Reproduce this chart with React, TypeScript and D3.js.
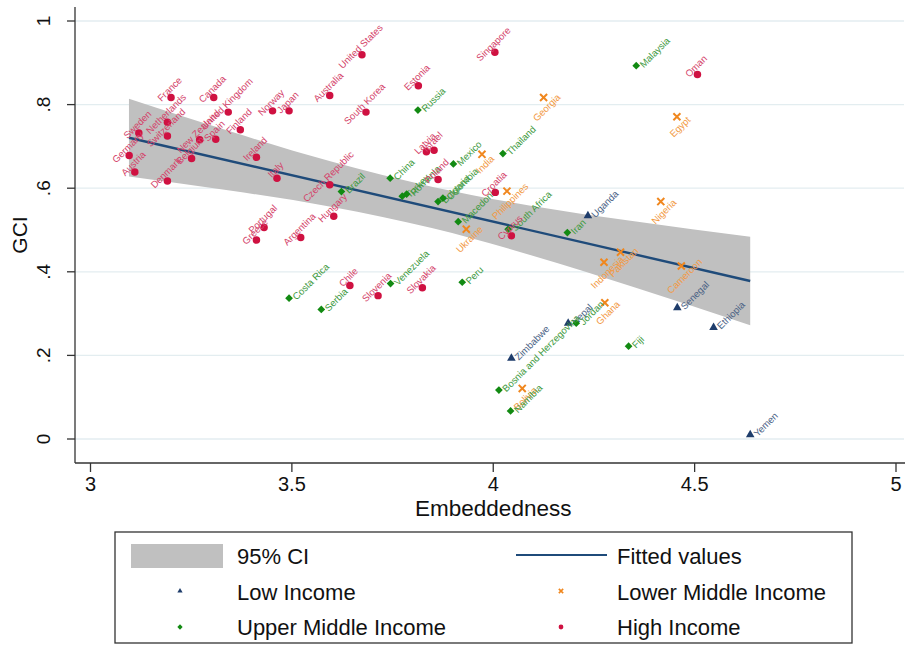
import React from "react";
import * as d3 from "d3";

const W = 907;
const H = 646;
const FONT = "'Liberation Sans', Arial, Helvetica, sans-serif";

// points: country, embeddedness, GCI
const lowIncome = [
  { c: "Uganda", x: 4.235, y: 0.534 },
  { c: "Senegal", x: 4.457, y: 0.314 },
  { c: "Ethiopia", x: 4.547, y: 0.267 },
  { c: "Zimbabwe", x: 4.045, y: 0.193 },
  { c: "Nepal", x: 4.186, y: 0.277 },
  { c: "Yemen", x: 4.638, y: 0.01 },
];

const lowerMiddle = [
  { c: "India", x: 3.972, y: 0.681 },
  { c: "Georgia", x: 4.125, y: 0.817 },
  { c: "Egypt", x: 4.456, y: 0.771 },
  { c: "Philippines", x: 4.034, y: 0.593 },
  { c: "Ukraine", x: 3.933, y: 0.502 },
  { c: "Nigeria", x: 4.416, y: 0.568 },
  { c: "Pakistan", x: 4.316, y: 0.447 },
  { c: "Indonesia", x: 4.275, y: 0.423 },
  { c: "Cameroon", x: 4.467, y: 0.414 },
  { c: "Ghana", x: 4.277, y: 0.326 },
  { c: "Bolivia", x: 4.072, y: 0.121 },
];

const upperMiddle = [
  { c: "Malaysia", x: 4.355, y: 0.893 },
  { c: "Russia", x: 3.813, y: 0.787 },
  { c: "Mexico", x: 3.901, y: 0.658 },
  { c: "Thailand", x: 4.024, y: 0.683 },
  { c: "China", x: 3.744, y: 0.624 },
  { c: "Brazil", x: 3.623, y: 0.592 },
  { c: "Turkey", x: 3.774, y: 0.581 },
  { c: "Romania", x: 3.785, y: 0.586 },
  { c: "Bulgaria", x: 3.863, y: 0.568 },
  { c: "Colombia", x: 3.875, y: 0.576 },
  { c: "Macedonia", x: 3.913, y: 0.52 },
  { c: "South Africa", x: 4.037, y: 0.502 },
  { c: "Iran", x: 4.184, y: 0.494 },
  { c: "Costa Rica", x: 3.493, y: 0.337 },
  { c: "Serbia", x: 3.573, y: 0.31 },
  { c: "Venezuela", x: 3.745, y: 0.372 },
  { c: "Peru", x: 3.923, y: 0.375 },
  { c: "Jordan", x: 4.206, y: 0.277 },
  { c: "Fiji", x: 4.336, y: 0.222 },
  { c: "Bosnia and Herzegovina", x: 4.014, y: 0.117 },
  { c: "Namibia", x: 4.043, y: 0.067 },
];

const highIncome = [
  { c: "France", x: 3.2, y: 0.817 },
  { c: "Canada", x: 3.306, y: 0.817 },
  { c: "United Kingdom", x: 3.342, y: 0.782 },
  { c: "Norway", x: 3.452, y: 0.785 },
  { c: "Japan", x: 3.493, y: 0.785 },
  { c: "Netherlands", x: 3.191, y: 0.758 },
  { c: "Switzerland", x: 3.191, y: 0.725 },
  { c: "Sweden", x: 3.12, y: 0.732 },
  { c: "Finland", x: 3.372, y: 0.74 },
  { c: "New Zealand", x: 3.271, y: 0.716 },
  { c: "Spain", x: 3.311, y: 0.717 },
  { c: "Germany", x: 3.096, y: 0.678 },
  { c: "Belgium", x: 3.251, y: 0.671 },
  { c: "Ireland", x: 3.412, y: 0.674 },
  { c: "Austria", x: 3.11, y: 0.639 },
  { c: "Denmark", x: 3.191, y: 0.617 },
  { c: "Italy", x: 3.463, y: 0.624 },
  { c: "United States", x: 3.674, y: 0.919 },
  { c: "Australia", x: 3.594, y: 0.822 },
  { c: "South Korea", x: 3.684, y: 0.782 },
  { c: "Estonia", x: 3.814, y: 0.845 },
  { c: "Singapore", x: 4.004, y: 0.925 },
  { c: "Latvia", x: 3.834, y: 0.687 },
  { c: "Israel", x: 3.853, y: 0.691 },
  { c: "Poland", x: 3.863, y: 0.621 },
  { c: "Czech Republic", x: 3.594, y: 0.608 },
  { c: "Croatia", x: 4.005, y: 0.59 },
  { c: "Cyprus", x: 4.045, y: 0.486 },
  { c: "Oman", x: 4.507, y: 0.872 },
  { c: "Hungary", x: 3.604, y: 0.533 },
  { c: "Portugal", x: 3.431, y: 0.506 },
  { c: "Greece", x: 3.412, y: 0.476 },
  { c: "Argentina", x: 3.522, y: 0.482 },
  { c: "Chile", x: 3.644, y: 0.367 },
  { c: "Slovenia", x: 3.714, y: 0.343 },
  { c: "Slovakia", x: 3.824, y: 0.362 },
];

// fitted line and 95% band
const fitX = [3.0955, 4.638];
const fitY = [0.7208, 0.378];
const ciX = [3.0955, 3.35, 3.6, 3.85, 4.1, 4.35, 4.638];
const ciLo = [0.628, 0.594, 0.555, 0.504, 0.438, 0.363, 0.272];
const ciHi = [0.814, 0.735, 0.663, 0.603, 0.557, 0.521, 0.484];

const xTicks = [3, 3.5, 4, 4.5, 5];
const yTicks = [0, 0.2, 0.4, 0.6, 0.8, 1];
const yTickLabels = ["0", ".2", ".4", ".6", ".8", "1"];

const legendItems = [
  "95% CI",
  "Fitted values",
  "Low Income",
  "Lower Middle Income",
  "Upper Middle Income",
  "High Income",
];

const RED = "#cf1141";
const GREEN = "#128a12";
const ORANGE = "#f0871e";
const BLUE = "#1f3d6b";
const LINE = "#1f4b7a";

const x = d3.scaleLinear().domain([3, 5]).range([90.5, 896]);
const y = d3.scaleLinear().domain([0, 1]).range([439, 21]);

const circle = d3.symbol(d3.symbolCircle, 44)();
const square = d3.symbol(d3.symbolSquare, 30)();
const tri = d3.symbol(d3.symbolTriangle, 32)();
const cross = d3.symbol(d3.symbolX, 34)();

export default function App() {
  const band = d3
    .area<number>()
    .x((d) => x(d))
    .y0((_, i) => y(ciLo[i]))
    .y1((_, i) => y(ciHi[i]))
    .curve(d3.curveMonotoneX)(ciX);
  const fit = d3
    .line<number>()
    .x((d) => x(d))
    .y((_, i) => y(fitY[i]))(fitX);

  const labelSize = 9.6;
  // legend layout: two columns, three rows
  const colX = [237, 617];
  const rowY = [556, 592, 627];

  return (
    <svg
      width={W}
      height={H}
      style={{ position: "absolute", left: 0, top: 0, background: "#fff" }}
      fontFamily={FONT}
    >
      {/* grid */}
      {yTicks.map((t) => (
        <line key={"g" + t} x1={75} x2={904} y1={y(t)} y2={y(t)} stroke="#e3edf0" strokeWidth={1.3} />
      ))}

      <path d={band ?? ""} fill="#c0c0c0" />
      <path d={fit ?? ""} fill="none" stroke={LINE} strokeWidth={2.4} />

      {/* low income */}
      {lowIncome.map((d) => (
        <g key={d.c} transform={`translate(${x(d.x)},${y(d.y)})`}>
          <path d={tri ?? ""} fill={BLUE} />
          <text x={5} y={0} fontSize={labelSize} fill="#4a6285" dominantBaseline="central" transform="rotate(-45 5 0)">
            {d.c}
          </text>
        </g>
      ))}

      {/* lower middle */}
      {lowerMiddle.map((d) => (
        <g key={d.c} transform={`translate(${x(d.x)},${y(d.y)})`}>
          <path d={cross ?? ""} fill="none" stroke={ORANGE} strokeWidth={2} />
          <text x={3} y={10} fontSize={labelSize} fill="#f29a45" textAnchor="middle" dominantBaseline="central" transform="rotate(-45 3 10)">
            {d.c}
          </text>
        </g>
      ))}

      {/* upper middle */}
      {upperMiddle.map((d) => (
        <g key={d.c} transform={`translate(${x(d.x)},${y(d.y)})`}>
          <path d={square ?? ""} fill={GREEN} transform="rotate(45)" />
          <text x={5} y={0} fontSize={labelSize} fill="#3e9a3e" dominantBaseline="central" transform="rotate(-45 5 0)">
            {d.c}
          </text>
        </g>
      ))}

      {/* high income */}
      {highIncome.map((d) => (
        <g key={d.c} transform={`translate(${x(d.x)},${y(d.y)})`}>
          <path d={circle ?? ""} fill={RED} />
          <text x={-1.5} y={-8.5} fontSize={labelSize} fill="#d4436a" textAnchor="middle" dominantBaseline="central" transform="rotate(-45 -1.5 -8.5)">
            {d.c}
          </text>
        </g>
      ))}

      {/* axes */}
      <line x1={75} x2={75} y1={7} y2={463} stroke="#333" strokeWidth={1.3} />
      <line x1={75} x2={905} y1={463} y2={463} stroke="#333" strokeWidth={1.3} />
      {yTicks.map((t, i) => (
        <g key={"yt" + t}>
          <line x1={67} x2={75} y1={y(t)} y2={y(t)} stroke="#333" strokeWidth={1.3} />
          <text x={50} y={y(t)} fontSize={19} textAnchor="middle" transform={`rotate(-90 50 ${y(t)})`} fill="#111">
            {yTickLabels[i]}
          </text>
        </g>
      ))}
      {xTicks.map((t) => (
        <g key={"xt" + t}>
          <line x1={x(t)} x2={x(t)} y1={463} y2={472} stroke="#333" strokeWidth={1.3} />
          <text x={x(t)} y={491} fontSize={20} textAnchor="middle" fill="#111">
            {t}
          </text>
        </g>
      ))}
      <text x={x(4)} y={516} fontSize={22.5} textAnchor="middle" fill="#111">
        Embeddedness
      </text>
      <text x={27} y={235} fontSize={21} textAnchor="middle" transform="rotate(-90 27 235)" fill="#111">
        GCI
      </text>

      {/* legend */}
      <rect x={115} y={532} width={737} height={111} fill="#fff" stroke="#333" strokeWidth={1.3} />
      <rect x={131} y={544} width={92} height={24} fill="#c0c0c0" />
      <line x1={516} x2={607} y1={555} y2={555} stroke={LINE} strokeWidth={2.2} />
      <path d={d3.symbol(d3.symbolTriangle, 12)() ?? ""} fill={BLUE} transform="translate(180,591)" />
      <path d={d3.symbol(d3.symbolX, 14)() ?? ""} fill="none" stroke={ORANGE} strokeWidth={1.6} transform="translate(561,591)" />
      <path d={d3.symbol(d3.symbolSquare, 14)() ?? ""} fill={GREEN} transform="translate(180,627) rotate(45)" />
      <path d={d3.symbol(d3.symbolCircle, 18)() ?? ""} fill={RED} transform="translate(561,627)" />
      {legendItems.map((t, i) => (
        <text key={t} x={colX[i % 2]} y={rowY[Math.floor(i / 2)]} fontSize={22} dominantBaseline="central" fill="#111">
          {t}
        </text>
      ))}
    </svg>
  );
}
